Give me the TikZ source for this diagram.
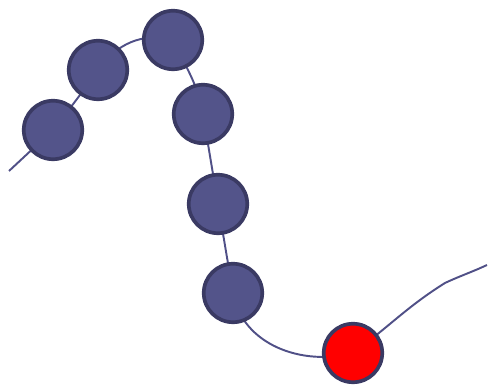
\documentclass[tikz,border=0pt]{standalone}
\definecolor{bdFill}{RGB}{83, 84, 138}
\definecolor{bdEdge}{RGB}{58, 58, 99}
\definecolor{bdLine}{RGB}{80, 80, 135}
\definecolor{bdRed}{RGB}{255, 0, 0}
\usetikzlibrary{positioning, backgrounds}
\tikzset{
  bead/.style={circle, draw=bdEdge, line width=2.1pt, fill=#1, minimum size=1.17cm, inner sep=0pt},
  bead/.default=bdFill,
  thread/.style={draw=bdLine, line width=1.1pt},
}

\begin{document}
\begin{tikzpicture}[x=0.02cm, y=0.02cm]
  \useasboundingbox (0,0) rectangle (488,388);
  % beads along the thread
  \node[bead] (b1) at (53,258) {};
  \node[bead] (b2) at (98,318) {};
  \node[bead] (b3) at (173,348) {};
  \node[bead] (b4) at (203,274) {};
  \node[bead] (b5) at (218,184) {};
  \node[bead] (b6) at (233,95) {};
  \node[bead=bdRed] (tip) at (353,35) {};
  \coordinate (start) at (9,217);
  \coordinate (bend) at (445,105);
  \coordinate (end) at (487,123);
  % thread behind the beads
  \begin{scope}[on background layer]
    \path[thread] (start) -- (b1.center)
      to[out=52, in=235] (b2.center)
      to[out=55, in=165] (b3.center)
      to[out=-65, in=100] (b4.center)
      -- (b5.center) -- (b6.center)
      to[out=-80, in=195] (tip.center)
      to[out=36, in=-148] (bend) to[out=25, in=-155] (end);
  \end{scope}
\end{tikzpicture}
\end{document}
